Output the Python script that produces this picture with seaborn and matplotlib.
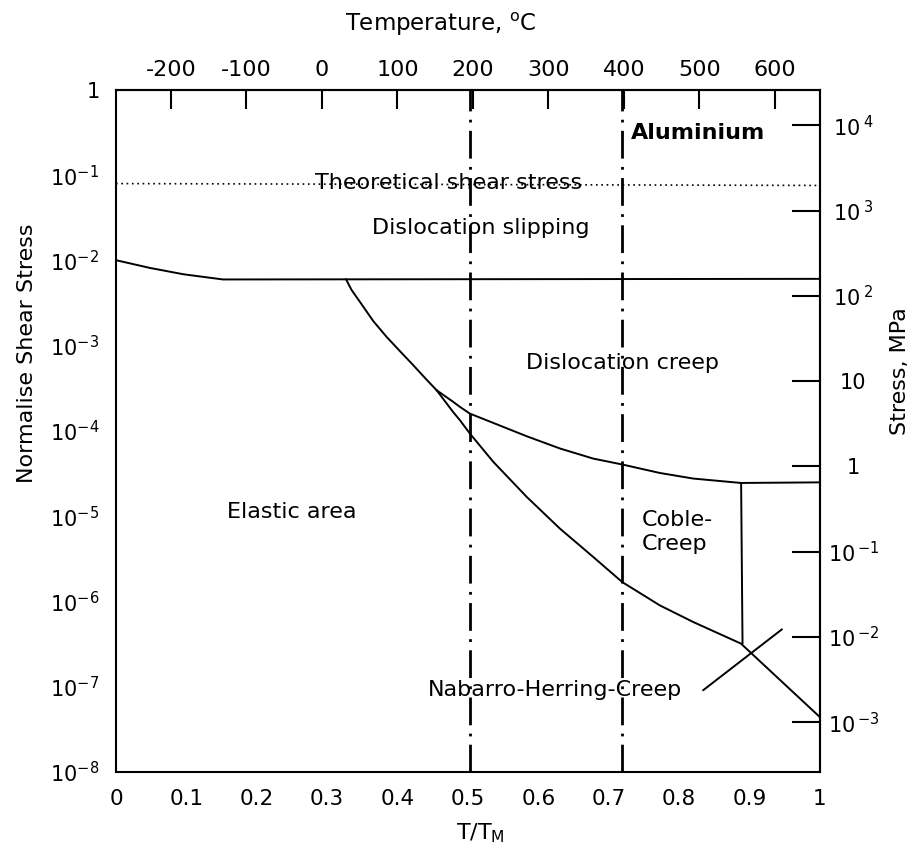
import numpy as np
import pandas as pd
import matplotlib
matplotlib.use("Agg")
import matplotlib.pyplot as plt
import seaborn as sns

# ---------------- data ----------------
TM_K = 933.0      # melting point of aluminium, K
G_MPA = 26000.0   # shear modulus used for the right axis, MPa

# upper boundary of the elastic / creep fields (dislocation slipping limit)
slip_t = [0.0, 0.048, 0.096, 0.152, 1.0]
slip_tau = [1.01e-2, 8.2e-3, 6.9e-3, 6.0e-3, 6.1e-3]

# elastic / dislocation creep boundary above the junction
elastic_t = [0.3267, 0.3348, 0.3466, 0.3655, 0.3845, 0.4034, 0.4223, 0.4389, 0.4555]
elastic_tau = [6.05e-3, 4.50e-3, 3.27e-3, 1.95e-3, 1.27e-3, 8.65e-4, 5.92e-4, 4.20e-4, 3.01e-4]

# lower boundary of dislocation creep
creep_t = [0.4555, 0.479, 0.4886, 0.5028, 0.536, 0.5834, 0.6307, 0.678, 0.7192,
           0.7727, 0.82, 0.8878, 1.0]
creep_tau = [3.01e-4, 2.2e-4, 1.92e-4, 1.60e-4, 1.245e-4, 8.69e-5, 6.24e-5, 4.75e-5,
             4.05e-5, 3.22e-5, 2.77e-5, 2.46e-5, 2.5e-5]

# elastic / Coble creep boundary
coble_t = [0.4555, 0.479, 0.4886, 0.5028, 0.536, 0.5834, 0.6307, 0.678, 0.7192,
           0.7727, 0.82, 0.8878, 1.0]
coble_tau = [3.01e-4, 1.67e-4, 1.34e-4, 9.33e-5, 4.35e-5, 1.69e-5, 7.16e-6, 3.33e-6,
             1.69e-6, 9.0e-7, 5.75e-7, 3.21e-7, 4.4e-8]

# Coble / Nabarro-Herring boundary
nh_t = [0.888, 0.890]
nh_tau = [2.46e-5, 3.21e-7]

# pointer line for the Nabarro-Herring label
ptr_t = [0.834, 0.946]
ptr_tau = [9.1e-8, 4.72e-7]

# theoretical shear stress
theo_t = [0.0, 1.0]
theo_tau = [0.080, 0.076]

# dash-dot reference temperatures (T/Tm)
ref_t = [0.503, 0.719]

x_ticks = [0, 0.1, 0.2, 0.3, 0.4, 0.5, 0.6, 0.7, 0.8, 0.9, 1.0]
x_labels = ["0", "0.1", "0.2", "0.3", "0.4", "0.5", "0.6", "0.7", "0.8", "0.9", "1"]
y_ticks = [1e0, 1e-1, 1e-2, 1e-3, 1e-4, 1e-5, 1e-6, 1e-7, 1e-8]
y_labels = [r"$1\;\;$", r"$10^{-1}$", r"$10^{-2}$", r"$10^{-3}$", r"$10^{-4}$",
            r"$10^{-5}$", r"$10^{-6}$", r"$10^{-7}$", r"$10^{-8}$"]
temp_ticks = [-200, -100, 0, 100, 200, 300, 400, 500, 600]
temp_labels = ["-200", "-100", "0", "100", "200", "300", "400", "500", "600"]
mpa_ticks = [1e4, 1e3, 1e2, 1e1, 1e0, 1e-1, 1e-2, 1e-3]
mpa_labels = [r"$10^{\;4}$", r"$10^{\;3}$", r"$10^{\;2}$", "10", "1",
              r"$10^{\,{-1}}$", r"$10^{\,{-2}}$", r"$10^{\,{-3}}$"]

# ---------------- style ----------------
sns.set_theme(style="white")
plt.rcParams["font.family"] = ["DejaVu Sans"]
plt.rcParams["mathtext.fontset"] = "dejavusans"
plt.rcParams["axes.linewidth"] = 1.5

fig = plt.figure(figsize=(9.13, 8.48), dpi=100)
ax = fig.add_axes([0.127, 0.0896, 0.7711, 0.8042])
ax.set_yscale("log")

line_kw = dict(color="black", linewidth=1.4, sort=False, estimator=None, legend=False)
for tx, ty in [(slip_t, slip_tau), (elastic_t, elastic_tau), (creep_t, creep_tau),
               (coble_t, coble_tau), (nh_t, nh_tau), (ptr_t, ptr_tau)]:
    df = pd.DataFrame({"t": tx, "tau": ty})
    sns.lineplot(data=df, x="t", y="tau", ax=ax, **line_kw)

sns.lineplot(x=theo_t, y=theo_tau, ax=ax, color="black", linewidth=1.2,
             sort=False, estimator=None, legend=False)
ax.lines[-1].set_dashes((1, 2.2))

for xv in ref_t:
    ax.axvline(xv, color="black", linewidth=2.0, dashes=(10, 3, 1, 3))

ax.set_xlim(0, 1)
ax.set_ylim(1e-8, 1)

ax.set_xticks(x_ticks, x_labels)
ax.set_yticks(y_ticks, y_labels)
ax.minorticks_off()
ax.tick_params(axis="x", direction="in", length=16, width=1.5, pad=12, labelsize=15.5,
               color="black", labelcolor="black")
ax.tick_params(axis="y", direction="in", length=19, width=1.5, pad=12, labelsize=15,
               color="black", labelcolor="black")
for s in ax.spines.values():
    s.set_color("black")
    s.set_linewidth(1.5)

ax.set_xlabel(r"T/T$_{\mathrm{M}}$", fontsize=16, color="black")
ax.xaxis.set_label_coords(0.517, -0.073)
ax.set_ylabel("Normalise Shear Stress", fontsize=16, color="black")
ax.yaxis.set_label_coords(-0.112, 0.614)

# top axis: temperature in degrees C
secx = ax.secondary_xaxis("top", functions=(lambda t: np.asarray(t) * TM_K - 273.0,
                                            lambda c: (np.asarray(c) + 273.0) / TM_K))
secx.set_xticks(temp_ticks, temp_labels)
secx.tick_params(direction="in", length=14, width=1.5, pad=7, labelsize=16,
                 color="black", labelcolor="black")
secx.spines["top"].set_linewidth(1.5)
secx.set_xlabel(r"Temperature, $^{\mathrm{o}}$C", fontsize=16.5, color="black")
secx.xaxis.set_label_coords(0.4617, 1.0865, transform=ax.transAxes)

# right axis: stress in MPa
secy = ax.secondary_yaxis("right", functions=(lambda s: np.asarray(s) * G_MPA,
                                              lambda m: np.asarray(m) / G_MPA))
secy.set_yticks(mpa_ticks, mpa_labels)
secy.minorticks_off()
secy.tick_params(direction="in", length=20, width=1.5, pad=24, labelsize=15,
                 color="black", labelcolor="black")
plt.setp(secy.get_yticklabels(), ha="center")
secy.spines["right"].set_linewidth(1.5)
secy.set_ylabel("Stress, MPa", fontsize=16, color="black")
secy.yaxis.set_label_coords(1.1, 0.588, transform=ax.transAxes)

# ---------------- region labels ----------------
tkw = dict(fontsize=16, color="black")
ax.text(0.472, 0.0813, "Theoretical shear stress", ha="center", va="center", **tkw)
ax.text(0.518, 0.024, "Dislocation slipping", ha="center", va="center", **tkw)
ax.text(0.72, 6.25e-4, "Dislocation creep", ha="center", va="center", **tkw)
ax.text(0.249, 1.11e-5, "Elastic area", ha="center", va="center", **tkw)
ax.text(0.747, 6.6e-6, "Coble-\nCreep", ha="left", va="center", linespacing=1.25, **tkw)
ax.text(0.6236, 9.1e-8, "Nabarro-Herring-Creep", ha="center", va="center", **tkw)
ax.text(0.7315, 0.313, "Aluminium", ha="left", va="center", fontweight="bold", **tkw)

fig.savefig("out.png", dpi=100, facecolor="white")
